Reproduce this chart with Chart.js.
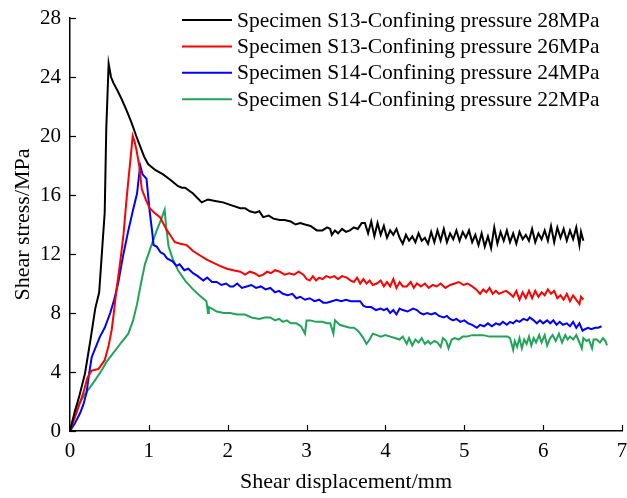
<!DOCTYPE html>
<html>
<head>
<meta charset="utf-8">
<script src="https://cdn.jsdelivr.net/npm/chart.js@4/dist/chart.umd.min.js"></script>
<style>
  body { margin: 0; background: #fff; }
  #wrap { width: 627px; height: 498px; }
</style>
</head>
<body>
<div id="wrap"><canvas id="shearChart" width="627" height="498"></canvas></div>
<script>
// Series labels / colours
const seriesLabels = [
  'Specimen S13-Confining pressure 28MPa',
  'Specimen S13-Confining pressure 26MPa',
  'Specimen S14-Confining pressure 24MPa',
  'Specimen S14-Confining pressure 22MPa'
];
const seriesColors = ['#000000', '#ff0000', '#0000ff', '#22a35a'];

const xTicks = [0, 1, 2, 3, 4, 5, 6, 7];
const yTicks = [0, 4, 8, 12, 16, 20, 24, 28];

// S13 - 28MPa (black)
const s13p28X = [0, 0.06, 0.12, 0.19, 0.26, 0.32, 0.37, 0.41, 0.44, 0.46, 0.49, 0.52, 0.55, 0.6, 0.655, 0.72, 0.78, 0.84, 0.89, 0.94, 0.99,
  1.08, 1.18, 1.28, 1.37, 1.42, 1.46, 1.56, 1.67, 1.75, 1.84, 1.94, 2.05, 2.16, 2.22, 2.28, 2.35, 2.4, 2.45, 2.52, 2.58, 2.66, 2.72,
  2.8, 2.86, 2.92, 2.98, 3.05, 3.13, 3.2, 3.26, 3.3, 3.32, 3.36, 3.4, 3.45, 3.5, 3.55, 3.6, 3.65, 3.7, 3.74,
  3.78, 3.82, 3.86, 3.90, 3.94, 3.98, 4.02, 4.06, 4.10, 4.14, 4.18, 4.22, 4.26, 4.30, 4.34, 4.38, 4.42, 4.46, 4.50, 4.54,
  4.58, 4.62, 4.66, 4.70, 4.74, 4.78, 4.82, 4.86, 4.90, 4.94, 4.98, 5.02, 5.06, 5.10, 5.14, 5.18, 5.22, 5.26, 5.30, 5.34,
  5.38, 5.42, 5.46, 5.50, 5.54, 5.58, 5.62, 5.66, 5.70, 5.74, 5.78, 5.82, 5.86, 5.90, 5.94, 5.98, 6.02, 6.06, 6.10, 6.14,
  6.18, 6.22, 6.26, 6.30, 6.34, 6.38, 6.42, 6.46, 6.48, 6.51];
const s13p28Y = [0, 1.3, 2.4, 3.9, 6.2, 8.3, 9.4, 12.5, 14.8, 20.5, 24.9, 24.0, 23.6, 23.1, 22.5, 21.7, 20.9, 20.0, 19.3, 18.6, 18.1,
  17.7, 17.4, 17.0, 16.6, 16.5, 16.5, 16.1, 15.5, 15.7, 15.6, 15.5, 15.3, 15.1, 15.1, 14.9, 14.8, 14.9, 14.5, 14.6, 14.4, 14.3, 14.3,
  14.2, 14.0, 14.1, 14.0, 13.9, 13.6, 13.6, 13.8, 13.7, 13.3, 13.6, 13.4, 13.7, 13.5, 13.6, 13.8, 13.7, 14.1, 14.1,
  13.4, 14.2, 13.2, 14.1, 13.3, 13.9, 13.1, 13.6, 13.3, 13.7, 13.1, 12.7, 13.3, 12.9, 13.2, 12.8, 13.4, 12.9, 13.1, 12.7,
  13.5, 12.8, 13.6, 12.9, 13.7, 12.8, 13.4, 13.0, 13.6, 12.9, 13.5, 13.1, 13.6, 12.8, 13.3, 12.6, 13.4, 12.5, 13.2, 12.4,
  13.8, 12.7, 13.5, 12.9, 13.6, 12.8, 13.4, 12.7, 13.5, 13.0, 13.3, 12.9, 13.7, 12.8, 13.4, 13.0, 13.6, 12.9, 13.9, 12.8,
  13.8, 13.1, 13.7, 12.9, 13.6, 13.0, 13.8, 12.6, 13.5, 12.9];

// S13 - 26MPa (red)
const s13p26X = [0, 0.08, 0.17, 0.22, 0.275, 0.36, 0.44, 0.49, 0.53, 0.56, 0.59, 0.64, 0.68, 0.71, 0.74, 0.77, 0.795, 0.82, 0.845, 0.88,
  0.91, 0.96, 1.01, 1.07, 1.14, 1.18, 1.23, 1.28, 1.33, 1.40, 1.48, 1.56, 1.65, 1.74, 1.82, 1.90, 1.99, 2.07, 2.16, 2.22, 2.28, 2.34,
  2.40, 2.45, 2.50, 2.55, 2.60, 2.66, 2.72, 2.78, 2.84, 2.90, 2.96, 3.00, 3.04, 3.08, 3.12, 3.16, 3.20, 3.25, 3.30, 3.35, 3.40,
  3.45, 3.51, 3.56, 3.60, 3.64, 3.68, 3.72, 3.76, 3.80, 3.84, 3.89, 3.94, 3.98, 4.02, 4.06, 4.10, 4.14, 4.18, 4.22, 4.27, 4.32,
  4.36, 4.40, 4.45, 4.50, 4.55, 4.60, 4.65, 4.70, 4.76, 4.82, 4.88, 4.93, 4.99, 5.04, 5.10, 5.15, 5.20, 5.24, 5.28, 5.32, 5.36,
  5.40, 5.44, 5.48, 5.53, 5.58, 5.62, 5.66, 5.70, 5.74, 5.78, 5.82, 5.86, 5.90, 5.94, 5.98, 6.02, 6.06, 6.10, 6.14, 6.18, 6.22,
  6.26, 6.30, 6.34, 6.38, 6.42, 6.46, 6.48, 6.51];
const s13p26Y = [0, 1.2, 2.6, 3.6, 4.1, 4.2, 4.8, 5.8, 6.9, 8.2, 9.6, 11.6, 13.4, 15.3, 17.0, 18.6, 20.0, 19.6, 19.0, 17.9,
  16.4, 15.7, 15.1, 14.8, 14.5, 14.1, 13.6, 13.2, 12.8, 12.7, 12.6, 12.2, 11.9, 11.6, 11.4, 11.2, 11.0, 10.9, 10.8, 10.6, 10.8, 10.7,
  10.5, 10.6, 10.8, 10.7, 10.9, 10.8, 10.6, 10.7, 10.6, 10.8, 10.6, 10.3, 10.2, 10.5, 10.2, 10.4, 10.3, 10.5, 10.4, 10.5, 10.3,
  10.5, 10.4, 10.2, 10.1, 10.4, 10.0, 10.3, 10.0, 10.2, 9.9, 10.0, 10.2, 9.8, 10.1, 9.8, 10.3, 9.7, 10.1, 9.8, 9.8, 10.1,
  9.7, 10.0, 9.8, 10.0, 9.7, 9.9, 9.8, 10.0, 9.7, 9.9, 10.0, 10.1, 9.9, 10.0, 9.8, 9.6, 9.3, 9.6, 9.4, 9.7, 9.3,
  9.5, 9.3, 9.4, 9.5, 9.3, 9.1, 9.5, 8.9, 9.4, 9.0, 9.5, 9.0, 9.5, 9.1, 9.4, 9.2, 9.6, 9.3, 9.5, 9.0, 9.2,
  8.9, 9.3, 8.8, 9.2, 8.9, 8.6, 9.1, 8.9];

// S14 - 24MPa (blue)
const s14p24X = [0, 0.06, 0.127, 0.17, 0.21, 0.24, 0.275, 0.32, 0.38, 0.44, 0.51, 0.56, 0.61, 0.67, 0.74, 0.80, 0.85, 0.89, 0.92, 0.97,
  1.01, 1.04, 1.06, 1.10, 1.15, 1.19, 1.23, 1.30, 1.35, 1.39, 1.45, 1.50, 1.56, 1.62, 1.69, 1.74, 1.80, 1.86, 1.92, 1.98, 2.03,
  2.07, 2.12, 2.18, 2.24, 2.30, 2.36, 2.42, 2.48, 2.54, 2.60, 2.65, 2.70, 2.76, 2.82, 2.87, 2.92, 2.98, 3.04, 3.10, 3.16, 3.21,
  3.26, 3.32, 3.38, 3.44, 3.50, 3.56, 3.62, 3.68, 3.72, 3.76, 3.82, 3.88, 3.94, 3.98, 4.02, 4.06, 4.10, 4.14, 4.18, 4.22, 4.28,
  4.35, 4.40, 4.44, 4.48, 4.53, 4.58, 4.63, 4.68, 4.74, 4.78, 4.82, 4.86, 4.90, 4.95, 5.00, 5.05, 5.10, 5.16, 5.20, 5.25, 5.30,
  5.35, 5.40, 5.45, 5.49, 5.54, 5.58, 5.62, 5.66, 5.70, 5.75, 5.80, 5.83, 5.88, 5.92, 5.96, 6.00, 6.05, 6.09, 6.13, 6.17, 6.21,
  6.25, 6.30, 6.34, 6.38, 6.42, 6.46, 6.50, 6.53, 6.57, 6.61, 6.66, 6.70, 6.74];
const s14p24Y = [0, 0.5, 1.2, 1.8, 2.6, 3.8, 5.0, 5.6, 6.4, 7.0, 8.0, 8.9, 10.0, 11.8, 13.6, 15.0, 16.1, 18.0, 17.4, 17.1,
  14.9, 13.6, 12.6, 12.5, 12.1, 12.0, 11.7, 11.5, 11.2, 11.3, 10.9, 11.0, 10.7, 10.5, 10.2, 10.4, 10.1, 10.1, 9.9, 10.0, 9.8,
  9.8, 10.0, 9.7, 9.8, 9.9, 9.7, 9.8, 9.6, 9.7, 9.4, 9.5, 9.3, 9.2, 9.3, 9.0, 9.1, 8.9, 9.0, 8.8, 8.9, 8.7,
  8.7, 8.8, 8.9, 8.8, 8.9, 8.8, 8.8, 8.8, 8.5, 8.4, 8.4, 8.2, 8.3, 8.2, 8.3, 8.0, 8.2, 7.9, 8.3, 8.2, 8.1,
  8.3, 8.2, 8.0, 7.9, 8.0, 7.9, 8.0, 7.8, 7.7, 7.8, 7.6, 7.5, 7.6, 7.4, 7.5, 7.3, 7.2, 7.0, 7.2, 7.1, 7.3,
  7.1, 7.3, 7.2, 7.4, 7.2, 7.4, 7.3, 7.5, 7.4, 7.6, 7.5, 7.7, 7.5, 7.3, 7.5, 7.3, 7.5, 7.3, 7.5, 7.2, 7.4,
  7.2, 7.3, 7.1, 7.4, 7.0, 7.3, 6.8, 6.9, 7.0, 6.9, 7.0, 7.0, 7.1];

// S14 - 22MPa (green)
const s14p22X = [0, 0.085, 0.19, 0.30, 0.40, 0.465, 0.55, 0.65, 0.74, 0.80, 0.85, 0.90, 0.95, 1.02, 1.10, 1.16, 1.20, 1.22, 1.25,
  1.30, 1.37, 1.46, 1.56, 1.64, 1.73, 1.75, 1.76, 1.80, 1.86, 1.95, 2.03, 2.12, 2.22, 2.30, 2.40, 2.47, 2.54, 2.60, 2.65, 2.70,
  2.75, 2.80, 2.87, 2.93, 2.98, 3.00, 3.05, 3.12, 3.20, 3.26, 3.30, 3.34, 3.36, 3.42, 3.48, 3.55, 3.60, 3.65, 3.68, 3.72, 3.76,
  3.80, 3.84, 3.89, 3.94, 4.00, 4.06, 4.12, 4.18, 4.22, 4.27, 4.30, 4.34, 4.38, 4.42, 4.46, 4.50, 4.54, 4.57, 4.62, 4.66, 4.70,
  4.73, 4.77, 4.80, 4.84, 4.88, 4.93, 4.98, 5.03, 5.10, 5.17, 5.24, 5.32, 5.40, 5.48, 5.55, 5.58, 5.62, 5.64, 5.67, 5.70, 5.73,
  5.76, 5.79, 5.82, 5.85, 5.88, 5.91, 5.95, 5.98, 6.02, 6.05, 6.09, 6.12, 6.16, 6.20, 6.24, 6.28, 6.31, 6.34, 6.38, 6.42, 6.46,
  6.49, 6.51, 6.55, 6.58, 6.62, 6.64, 6.68, 6.72, 6.76, 6.79, 6.81];
const s14p22Y = [0, 1.6, 2.5, 3.3, 4.1, 4.7, 5.3, 6.0, 6.6, 7.5, 8.6, 10.0, 11.3, 12.4, 13.6, 14.4, 15.0, 13.8, 12.5,
  11.7, 10.9, 10.2, 9.6, 9.2, 8.8, 8.0, 8.4, 8.3, 8.1, 8.0, 8.0, 7.9, 7.9, 7.7, 7.6, 7.7, 7.7, 7.5, 7.6, 7.4,
  7.5, 7.3, 7.3, 7.1, 6.6, 7.5, 7.5, 7.4, 7.4, 7.3, 7.3, 6.6, 7.5, 7.2, 7.1, 7.0, 7.0, 6.8, 6.6, 6.3, 5.9,
  6.2, 6.6, 6.5, 6.4, 6.5, 6.4, 6.3, 6.2, 6.4, 5.9, 6.3, 5.8, 6.2, 6.0, 6.3, 5.9, 6.1, 5.9, 6.1, 6.0, 5.7,
  6.3, 6.1, 5.6, 6.2, 6.3, 6.2, 6.4, 6.4, 6.5, 6.5, 6.5, 6.4, 6.4, 6.4, 6.4, 6.3, 5.5, 6.1, 5.7, 6.3, 5.6,
  6.2, 5.9, 6.4, 5.8, 6.3, 6.0, 6.5, 6.0, 6.5, 5.8, 6.3, 6.5, 6.1, 6.6, 6.0, 6.5, 6.2, 6.4, 6.2, 6.5, 6.0,
  5.6, 6.3, 6.1, 6.2, 5.6, 6.2, 6.2, 6.0, 6.3, 6.1, 5.8];

const seriesX = [s13p28X, s13p26X, s14p24X, s14p22X];
const seriesY = [s13p28Y, s13p26Y, s14p24Y, s14p22Y];

const serif = 'Liberation Serif, Times New Roman, serif';

const datasets = seriesLabels.map((label, i) => ({
  label: label,
  data: seriesX[i].map((x, j) => ({ x: x, y: seriesY[i][j] })),
  borderColor: seriesColors[i],
  backgroundColor: seriesColors[i],
  borderWidth: 2,
  pointRadius: 0,
  showLine: true,
  tension: 0
}));

// Inward tick marks on both axes
const innerTicks = {
  id: 'innerTicks',
  afterDraw(chart) {
    const { ctx, scales: { x, y } } = chart;
    ctx.save();
    ctx.strokeStyle = '#000';
    ctx.lineWidth = 1.2;
    xTicks.forEach(v => {
      const px = Math.round(x.getPixelForValue(v)) + 0.5;
      ctx.beginPath();
      ctx.moveTo(px, y.bottom);
      ctx.lineTo(px, y.bottom - 6);
      ctx.stroke();
    });
    yTicks.forEach(v => {
      const py = Math.round(y.getPixelForValue(v)) + 0.5;
      ctx.beginPath();
      ctx.moveTo(x.left, py);
      ctx.lineTo(x.left + 6, py);
      ctx.stroke();
    });
    ctx.restore();
  }
};

// Legend drawn inside the plot, top right
const innerLegend = {
  id: 'innerLegend',
  afterDraw(chart) {
    const ctx = chart.ctx;
    ctx.save();
    ctx.font = '21.5px ' + serif;
    ctx.textBaseline = 'middle';
    chart.data.datasets.forEach((ds, i) => {
      const yy = 20 + i * 26.4;
      ctx.strokeStyle = ds.borderColor;
      ctx.lineWidth = 2;
      ctx.beginPath();
      ctx.moveTo(182, yy);
      ctx.lineTo(232, yy);
      ctx.stroke();
      ctx.fillStyle = '#000';
      ctx.fillText(ds.label, 237, yy + 1);
    });
    ctx.restore();
  }
};

new Chart(document.getElementById('shearChart'), {
  type: 'scatter',
  data: { datasets: datasets },
  options: {
    responsive: false,
    animation: false,
    layout: { padding: { top: 18, right: 5, left: 0, bottom: 0 } },
    plugins: { legend: { display: false }, tooltip: { enabled: false } },
    scales: {
      x: {
        type: 'linear',
        min: 0, max: 7,
        afterFit: s => { s.height = 67; s.paddingLeft = 0; s.paddingRight = 0; },
        afterBuildTicks: s => { s.ticks = xTicks.map(v => ({ value: v })); },
        ticks: { color: '#000', font: { family: serif, size: 21 }, padding: 8 },
        grid: { drawOnChartArea: false, drawTicks: false },
        border: { color: '#000', width: 1.5 },
        title: { display: true, text: 'Shear displacement/mm', color: '#000', font: { family: serif, size: 22 }, padding: { top: 0, bottom: 3 } }
      },
      y: {
        min: 0, max: 28,
        afterFit: s => { s.width = 70; s.paddingTop = 0; s.paddingBottom = 0; },
        afterBuildTicks: s => { s.ticks = yTicks.map(v => ({ value: v })); },
        ticks: { color: '#000', font: { family: serif, size: 21 }, padding: 9 },
        grid: { drawOnChartArea: false, drawTicks: false },
        border: { color: '#000', width: 1.5 },
        title: { display: true, text: 'Shear stress/MPa', color: '#000', font: { family: serif, size: 22 }, padding: { top: 10, bottom: 0 } }
      }
    }
  },
  plugins: [innerTicks, innerLegend]
});
</script>
</body>
</html>
